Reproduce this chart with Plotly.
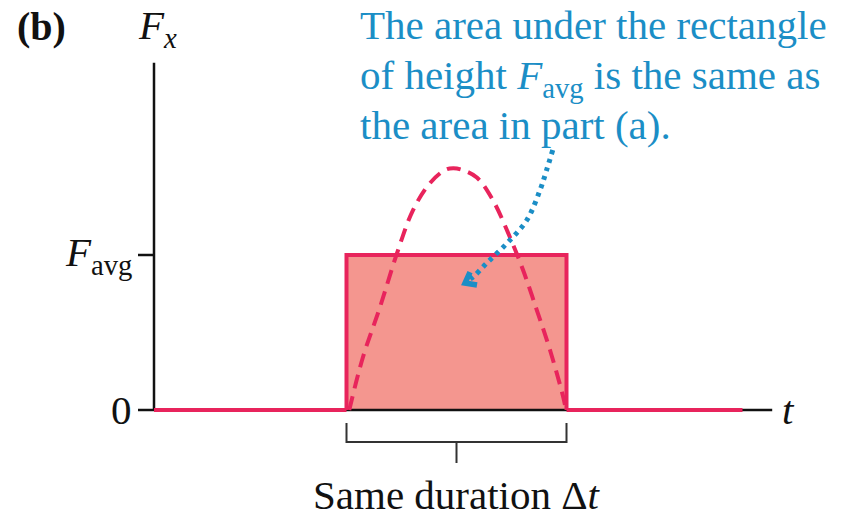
import plotly.graph_objects as go

# ---- data (t in arbitrary time units, F in units of F_avg) ----
t_pulse_start = 3.5
t_pulse_end = 7.5
F_avg = 1.0
t_line_end = 10.7          # where the drawn force trace stops
t_axis_end = 11.24         # length of the t axis
F_axis_end = 2.24          # length of the F_x axis

# force curve from part (a), drawn dashed
curve_t = [3.55, 3.80, 4.11, 4.42, 4.71, 5.02, 5.30, 5.44, 5.60, 5.87, 6.16, 6.47, 6.71, 6.96, 7.20, 7.44, 7.49]
curve_F = [0.0, 0.342, 0.665, 1.013, 1.29, 1.465, 1.55, 1.56, 1.55, 1.50, 1.355, 1.116, 0.903, 0.645, 0.387, 0.084, 0.0]

# dotted pointer from the caption into the rectangle
pointer_t = [7.25, 7.14, 7.02, 6.78, 6.42, 6.05, 5.80, 5.68]
pointer_F = [1.677, 1.55, 1.42, 1.226, 1.077, 0.948, 0.858, 0.83]
head_t = [5.745, 5.655, 5.873]
head_F = [0.89, 0.819, 0.806]

y_ticks = [0, F_avg]
y_tick_text = ["0", "<i>F</i><sub>avg</sub>"]

caption_lines = [
    "The area under the rectangle",
    "of height <i>F</i><sub>avg</sub> is the same as",
    "the area in part (a).",
]

# ---- styling ----
W, H = 859, 511
PINK = "#e8245c"
PINK_FILL = "#f4968f"
BLUE = "#1b8ec6"
SERIF = "Liberation Serif, Times New Roman, serif"

# one data unit in pixels, and where the origin sits on the canvas
UX, UY = 55.0, 155.0
OX, OY = 154.0, 410.0
x_range = [-OX / UX, (W - OX) / UX]
y_range = [-(H - OY) / UY, OY / UY]


def px(x):
    return x / W


def py(y):
    return 1 - y / H


fig = go.Figure()

# filled rectangle of height F_avg
fig.add_trace(go.Scatter(
    x=[t_pulse_start, t_pulse_start, t_pulse_end, t_pulse_end, t_pulse_start],
    y=[0, F_avg, F_avg, 0, 0],
    fill="toself", fillcolor=PINK_FILL, mode="none", hoverinfo="skip",
))

# axes
fig.add_trace(go.Scatter(x=[0, t_axis_end], y=[0, 0], mode="lines",
                         line=dict(color="#111", width=2.5), hoverinfo="skip"))
fig.add_trace(go.Scatter(x=[0, 0], y=[0, F_axis_end], mode="lines",
                         line=dict(color="#111", width=2.5), hoverinfo="skip"))

# tick marks on the F axis
for v in y_ticks:
    fig.add_trace(go.Scatter(x=[-16 / UX, 0], y=[v, v], mode="lines",
                             line=dict(color="#111", width=2.5), hoverinfo="skip"))

# force trace: zero, step up to F_avg, step back down, zero
fig.add_trace(go.Scatter(x=[0, t_pulse_start], y=[0, 0], mode="lines",
                         line=dict(color=PINK, width=4), hoverinfo="skip"))
fig.add_trace(go.Scatter(
    x=[t_pulse_start, t_pulse_start, t_pulse_end, t_pulse_end],
    y=[0, F_avg, F_avg, 0], mode="lines",
    line=dict(color=PINK, width=4), hoverinfo="skip"))
fig.add_trace(go.Scatter(x=[t_pulse_end, t_line_end], y=[0, 0], mode="lines",
                         line=dict(color=PINK, width=4), hoverinfo="skip"))

# dashed curve of part (a)
fig.add_trace(go.Scatter(x=curve_t, y=curve_F, mode="lines",
                         line=dict(color=PINK, width=4, dash="14px,8px", shape="spline"),
                         hoverinfo="skip"))

# dotted pointer with a chevron head
fig.add_trace(go.Scatter(x=pointer_t, y=pointer_F, mode="lines",
                         line=dict(color=BLUE, width=5, dash="4px,5px", shape="spline"),
                         hoverinfo="skip"))
fig.add_trace(go.Scatter(x=head_t, y=head_F, mode="lines",
                         line=dict(color=BLUE, width=5.5), hoverinfo="skip"))

# bracket marking the duration
br_top, br_mid, br_bot = -13 / UY, -32 / UY, -53 / UY
t_mid = (t_pulse_start + t_pulse_end) / 2
for xs, ys in [
    ([t_pulse_start, t_pulse_start, t_pulse_end, t_pulse_end], [br_top, br_mid, br_mid, br_top]),
    ([t_mid, t_mid], [br_mid, br_bot]),
]:
    fig.add_trace(go.Scatter(x=xs, y=ys, mode="lines",
                             line=dict(color="#333", width=2), hoverinfo="skip"))

annotations = []

# tick labels
for v, txt in zip(y_ticks, y_tick_text):
    annotations.append(dict(x=-20 / UX, y=v, xref="x", yref="y", text=txt,
                            xanchor="right", yanchor="middle", showarrow=False,
                            font=dict(family=SERIF, size=41, color="#111")))

# axis titles
annotations.append(dict(x=t_axis_end + 8 / UX, y=0, xref="x", yref="y", text="<i>t</i>",
                        xanchor="left", yanchor="middle", showarrow=False,
                        font=dict(family=SERIF, size=41, color="#111")))
annotations.append(dict(x=px(136), y=py(0), xref="paper", yref="paper",
                        text="<i>F</i><sub><i>x</i></sub>",
                        xanchor="left", yanchor="top", showarrow=False,
                        font=dict(family=SERIF, size=41, color="#111")))
annotations.append(dict(x=px(15), y=py(2), xref="paper", yref="paper", text="<b>(b)</b>",
                        xanchor="left", yanchor="top", showarrow=False,
                        font=dict(family=SERIF, size=40, color="#111")))

# caption
for i, line in enumerate(caption_lines):
    annotations.append(dict(x=px(358), y=py(0 + 50 * i), xref="paper", yref="paper",
                            text=line, xanchor="left", yanchor="top", showarrow=False,
                            font=dict(family=SERIF, size=41, color=BLUE)))

annotations.append(dict(x=t_mid, y=py(470), xref="x", yref="paper",
                        text="Same duration Δ<i>t</i>", xanchor="center", yanchor="top",
                        showarrow=False,
                        font=dict(family=SERIF, size=41, color="#111")))

fig.update_layout(
    width=W, height=H,
    margin=dict(l=0, r=0, t=0, b=0),
    paper_bgcolor="white", plot_bgcolor="white",
    showlegend=False,
    xaxis=dict(range=x_range, visible=False, fixedrange=True),
    yaxis=dict(range=y_range, visible=False, fixedrange=True),
    annotations=annotations,
)

fig.write_html("out.html", config={"displayModeBar": False})
